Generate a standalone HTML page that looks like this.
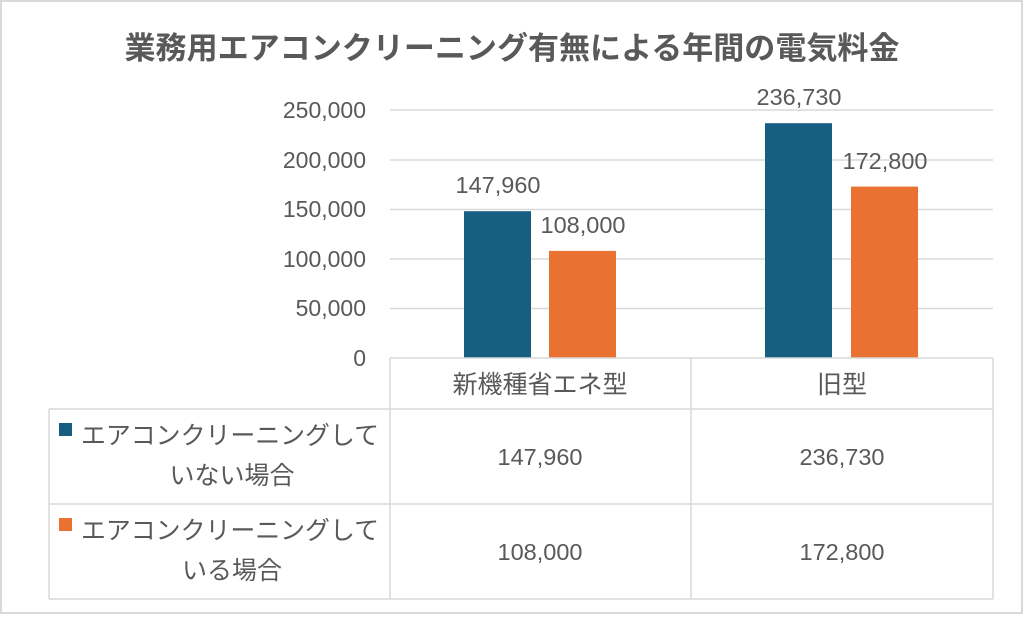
<!DOCTYPE html>
<html><head><meta charset="utf-8"><style>
body{margin:0;background:#fff}
svg text{font-family:"Liberation Sans","Noto Sans CJK JP",sans-serif;fill:#595959}
</style></head><body>
<svg width="1024" height="615" xmlns="http://www.w3.org/2000/svg">
<rect x="1" y="1" width="1021" height="612" fill="#fff" stroke="#d9d9d9" stroke-width="2"/>
<text x="512" y="59" text-anchor="middle" font-size="31" font-weight="bold" textLength="775" lengthAdjust="spacingAndGlyphs">業務用エアコンクリーニング有無による年間の電気料金</text>
<g stroke="#d9d9d9" stroke-width="1.5">
<line x1="390" y1="110" x2="993" y2="110"/>
<line x1="390" y1="160" x2="993" y2="160"/>
<line x1="390" y1="209.5" x2="993" y2="209.5"/>
<line x1="390" y1="259" x2="993" y2="259"/>
<line x1="390" y1="308.5" x2="993" y2="308.5"/>
</g>
<g font-size="23" text-anchor="end">
<text x="366" y="118">250,000</text>
<text x="366" y="168">200,000</text>
<text x="366" y="217">150,000</text>
<text x="366" y="267">100,000</text>
<text x="366" y="316">50,000</text>
<text x="366" y="366">0</text>
</g>
<rect x="464" y="211.2" width="67" height="146.8" fill="#175f81"/>
<rect x="549" y="250.9" width="67" height="107.1" fill="#e97132"/>
<rect x="765" y="123.2" width="67" height="234.8" fill="#175f81"/>
<rect x="851" y="186.6" width="67" height="171.4" fill="#e97132"/>
<g font-size="23.5" text-anchor="middle" fill="#404040">
<text x="498" y="193">147,960</text>
<text x="583" y="233">108,000</text>
<text x="799" y="105">236,730</text>
<text x="885" y="169">172,800</text>
</g>
<g stroke="#d9d9d9" stroke-width="1.5" fill="none">
<line x1="390" y1="358" x2="993" y2="358"/>
<line x1="390" y1="358" x2="390" y2="599"/>
<line x1="691" y1="358" x2="691" y2="599"/>
<line x1="993" y1="358" x2="993" y2="599"/>
<line x1="49" y1="409" x2="993" y2="409"/>
<line x1="49" y1="504" x2="993" y2="504"/>
<line x1="49" y1="599" x2="993" y2="599"/>
<line x1="49" y1="409" x2="49" y2="599"/>
</g>
<g font-size="25" text-anchor="middle">
<text x="540" y="393">新機種省エネ型</text>
<text x="842" y="393">旧型</text>
</g>
<g font-size="23.5" text-anchor="middle">
<text x="540" y="465">147,960</text>
<text x="842" y="465">236,730</text>
<text x="540" y="560">108,000</text>
<text x="842" y="560">172,800</text>
</g>
<rect x="59" y="423" width="13" height="13" fill="#175f81"/>
<rect x="59" y="518" width="13" height="13" fill="#e97132"/>
<g font-size="25">
<text x="81" y="444" textLength="298" lengthAdjust="spacingAndGlyphs">エアコンクリーニングして</text>
<text x="232" y="484" text-anchor="middle">いない場合</text>
<text x="81" y="539" textLength="298" lengthAdjust="spacingAndGlyphs">エアコンクリーニングして</text>
<text x="232" y="579" text-anchor="middle">いる場合</text>
</g>
</svg>
</body></html>
